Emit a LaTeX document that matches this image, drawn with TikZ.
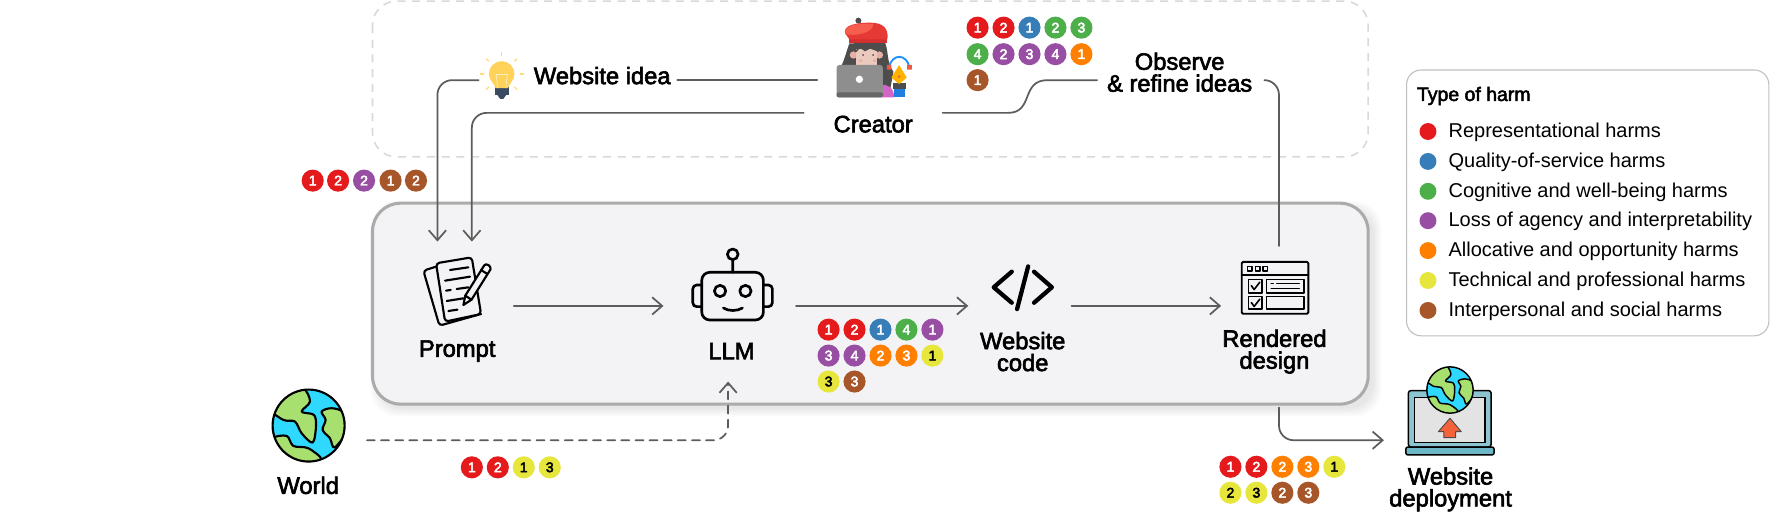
\documentclass[tikz,border=0pt]{standalone}
\usepackage{fontspec}
\usetikzlibrary{arrows.meta,calc}
\setmainfont{Liberation Sans}
\newfontfamily\labf[FakeBold=2.6]{Liberation Sans}
\newfontfamily\legf{Liberation Sans}
\newfontfamily\digf[FakeBold=3.5]{Liberation Sans}
\definecolor{hR}{HTML}{E41A1C}
\definecolor{hB}{HTML}{377EB8}
\definecolor{hG}{HTML}{4DAF4A}
\definecolor{hP}{HTML}{984EA3}
\definecolor{hO}{HTML}{FF7F00}
\definecolor{hY}{HTML}{E6E63C}
\definecolor{hN}{HTML}{A65628}
\definecolor{connc}{HTML}{5C5C5C}
\definecolor{panel}{HTML}{F3F3F5}
\definecolor{landc}{HTML}{A8E070}
\definecolor{seac}{HTML}{2ED8FF}
\definecolor{bulbc}{HTML}{FFD25A}
\definecolor{bulbb}{HTML}{3A4A60}
\definecolor{rayc}{HTML}{FFD97A}
\definecolor{hairc}{HTML}{4D4D4D}
\definecolor{skinc}{HTML}{EBC9BC}
\definecolor{earc}{HTML}{E5B0A5}
\definecolor{beretc}{HTML}{E53935}
\definecolor{beretl}{HTML}{F65D4E}
\definecolor{beretd}{HTML}{D32F2F}
\definecolor{lapc}{HTML}{8E8E8E}
\definecolor{lapd}{HTML}{666666}
\definecolor{pinkc}{HTML}{D465C8}
\definecolor{penb}{HTML}{1E7FE0}
\definecolor{nibc}{HTML}{FFB300}
\definecolor{arcc}{HTML}{1E90FF}
\definecolor{handc}{HTML}{F05A40}
\definecolor{lapframe}{HTML}{8CC4CF}
\definecolor{lapbase}{HTML}{6DB6C6}
\definecolor{screenc}{HTML}{E3E3E3}
\definecolor{uparrow}{HTML}{F4623A}
\def\uu{0.8466pt}
\tikzset{
  badge/.style={circle,inner sep=0pt,minimum size=19.6*\uu,font=\digf\fontsize{10.5pt}{10.5pt}\selectfont},
  bR/.style={badge,fill=hR,text=white},
  bB/.style={badge,fill=hB,text=white},
  bG/.style={badge,fill=hG,text=white},
  bP/.style={badge,fill=hP,text=white},
  bO/.style={badge,fill=hO,text=white},
  bY/.style={badge,fill=hY,text=black},
  bN/.style={badge,fill=hN,text=white},
  lab/.style={inner sep=0pt,align=center,font=\labf\fontsize{17.8pt}{16.4pt}\selectfont},
  legtext/.style={inner sep=0pt,anchor=west,text height=11pt,text depth=3pt,font=\legf\fontsize{15pt}{18pt}\selectfont},
  legdot/.style={circle,inner sep=0pt,minimum size=15*\uu},
  iconbox/.style={inner sep=0pt,draw=none,fill=none},
  conn/.style={draw=connc,line width=1.3pt,line cap=round},
  tip/.style={-{Straight Barb[length=7.5pt,width=13pt,line width=1.3pt]}},
  ink/.style={draw=black,line width=1.6pt,line join=round,line cap=round},
}
\newcommand{\bdg}[5]{\node[#4] (#1) at (#2,#3) {#5};}
\newcommand{\globeAt}[4]{%
  \begin{scope}[shift={(#1,#2)},scale=#3]
    \begin{scope}
      \clip (0,0) circle (108);
      \fill[seac] (0,0) circle (108);
      \draw[fill=landc,draw=black,line width=#4,line join=round] plot[smooth cycle,tension=0.55] coordinates {(-120,-50)(-76,-17)(-41,-12)(-21,23)(12,51)(22,3)(16,-32)(-21,-42)(4,-72)(-16,-112)(-70,-120)(-125,-80)};
      \draw[fill=landc,draw=black,line width=#4,line join=round] plot[smooth cycle,tension=0.55] coordinates {(39,-42)(69,-52)(105,-40)(125,0)(79,65)(64,38)(42,13)(51,-17)};
      \draw[fill=landc,draw=black,line width=#4,line join=round] plot[smooth cycle,tension=0.55] coordinates {(-110,38)(-66,31)(-46,61)(-1,68)(39,103)(-6,125)(-80,115)(-120,70)};
    \end{scope}
    \draw[black,line width=#4] (0,0) circle (108);
  \end{scope}}
\begin{document}
\begin{tikzpicture}[x=0.8466pt,y=-0.8466pt]
\useasboundingbox (0,0) rectangle (1568,453.54);
\fill[white] (0,0) rectangle (1568,453.54);

% creator region
\draw[draw=black!15,line width=1.2pt,dash pattern=on 6pt off 5pt,rounded corners=18pt] (330,1) rectangle (1212,139);

% main panel with soft shadow
\foreach \g in {1,2,3,4,5,6,7,8}{
  \fill[black,opacity=0.012,rounded corners=20pt] (336-\g,186-\g) rectangle (1216+\g,361+\g);
}
\draw[fill=panel,draw=black!33,line width=2.3pt,rounded corners=21pt] (330,180) rectangle (1212,358);

% bulb
\begin{scope}
  \foreach \a in {0,45,135,180,225,315}{
    \draw[rayc,line width=0.9pt] ($(444.4,65.6)+(\a:16)$) -- ($(444.4,65.6)+(\a:19.5)$);
  }
  \draw[rayc,line width=0.9pt] (444.4,49.5) -- (444.4,46.5);
  \fill[bulbb] (438.5,77) rectangle (450.5,84) ;
  \fill[bulbb] (440.5,84) -- (448.5,84) -- (446,87.5) -- (443,87.5) -- cycle;
  \fill[bulbc] (433,65.6) arc[start angle=180,end angle=360,radius=11.4] .. controls (455.8,71) and (451,74) .. (450,78) -- (439,78) .. controls (438,74) and (433,71) .. (433,65.6);
  \draw[rayc!45!white,line width=0.5pt] (441,78) -- (439.5,66) -- (449.5,66) -- (448,78);
\end{scope}

% creator icon
\begin{scope}[shift={(699.9,8.86)},scale=0.2953]
  \fill[hairc] (205,32) circle (9);
  \fill[hairc] (178,100) .. controls (170,120) and (165,145) .. (155,165) -- (150,190) -- (300,240) -- (310,185) .. controls (290,160) and (295,120) .. (285,98) -- cycle;
  \fill[beretd] (178,68) rectangle (290,98);
  \fill[beretc] (165,70) .. controls (158,45) and (200,38) .. (240,38) .. controls (280,38) and (296,55) .. (292,88) -- (178,88) -- cycle;
  \fill[beretl] (165,72) .. controls (158,48) and (200,38) .. (248,42) .. controls (255,58) and (215,82) .. (165,72) -- cycle;
  \fill[earc] (190,135) circle (11) (268,135) circle (11);
  \fill[skinc] (197,118) rectangle (262,165);
  \fill[hairc] (197,122) -- (210,104) -- (225,114) -- (240,98) -- (250,112) -- (262,118) -- (262,124) -- (240,116) -- (225,124) -- (210,114) -- (197,128) -- cycle;
  \fill[hairc] (219,135) circle (3.2) (249,135) circle (3.2);
  \fill[earc] (212,152) circle (5.5) (254,152) circle (5.5);
  \fill[pinkc] (272,262) -- (272,225) .. controls (295,222) and (312,235) .. (312,262) -- cycle;
  \fill[lapc,rounded corners=2pt] (140,165) rectangle (278,262);
  \fill[lapd,rounded corners=1pt] (140,247) rectangle (278,262);
  \fill[white] (208,208) circle (11);
  \fill[hairc] (310,220) rectangle (347,238);
  \fill[penb] (311,238) rectangle (346,262);
  \fill[nibc] (327,165) -- (350,203) -- (327,222) -- (304,203) -- cycle;
  \fill[handc] (327,200) circle (4);
  \draw[arcc,line width=1.4pt] (297,172) .. controls (305,130) and (350,130) .. (358,172);
  \fill[handc] (290,165) rectangle (304,179) (351,165) rectangle (365,179);
\end{scope}

% prompt icon
\begin{scope}[shift={(354.4,212.6)},scale=0.2953]
  \draw[ink,fill=panel,rounded corners=2.5pt] (108,80) -- (70,92) -- (118,257) -- (243,222);
  \draw[ink,fill=panel,rounded corners=2.5pt] (108,70) -- (215,52) -- (243,222) -- (135,245) -- cycle;
  \draw[ink] (150,90) -- (205,82) (135,122) -- (210,110) (138,152) -- (152,150) (170,147) -- (205,142) (140,183) -- (190,175) (145,213) -- (172,209);
  \draw[ink,fill=panel] (252.6,76) .. controls (258,68) and (274,78) .. (271.4,88) -- (214.4,179) -- (190,195) -- (195.6,167) -- cycle;
  \draw[ink] (243,90) -- (262,102) (196,167) -- (214,179);
\end{scope}

% robot icon
\begin{scope}[shift={(354.4,212.6)},scale=0.2953]
  \draw[ink,line width=2pt] (998,43) circle (16) (998,59) -- (998,97);
  \draw[ink,line width=2pt,rounded corners=6pt] (905,97) rectangle (1090,240);
  \draw[ink,line width=2pt,rounded corners=3pt] (905,135) -- (878,135) -- (878,200) -- (905,200);
  \draw[ink,line width=2pt,rounded corners=3pt] (1090,135) -- (1117,135) -- (1117,200) -- (1090,200);
  \draw[ink,line width=2pt] (960,153) circle (17) (1036,153) circle (17);
  \draw[ink,line width=2pt] (970,204) .. controls (985,214) and (1012,214) .. (1027,204);
\end{scope}

% code icon
\draw[black,line width=3.2pt,line cap=round,line join=round] (896.3,240.7) -- (880.3,254.5) -- (896.3,268.2) (916,240.7) -- (931.8,254.5) -- (916,268.2) (910.8,236) -- (901,273.8);

% rendered design icon
\begin{scope}
  \draw[ink,line width=1.4pt,rounded corners=1pt] (1100,232) rectangle (1159,278);
  \draw[ink,line width=1.2pt] (1100,243.5) -- (1159,243.5);
  \draw[ink,line width=1.1pt] (1105,236) rectangle (1109,240) (1112,236) rectangle (1116,240) (1119,236) rectangle (1123,240);
  \draw[ink,line width=1.2pt] (1106,247.5) rectangle (1118,259.5) (1106,262.5) rectangle (1118,274) (1122,247.5) rectangle (1155,259.5) (1122,262.5) rectangle (1155,274);
  \draw[ink,line width=1.2pt] (1108.5,253) -- (1111,256.5) -- (1116,250) (1108.5,268) -- (1111,271.5) -- (1116,265);
  \draw[ink,line width=0.9pt] (1126,251) -- (1128,251) (1131,251) -- (1151,251) (1126,255.5) -- (1151,255.5);
\end{scope}

% world and deployment icons
\globeAt{273.4}{377}{0.2953}{1.6pt}
\draw[black,line width=1.1pt,fill=lapframe,rounded corners=2pt] (1247.6,346) rectangle (1321,396);
\draw[black,line width=1.1pt,fill=screenc] (1253,352) rectangle (1315.6,392);
\draw[black,line width=1.1pt,fill=lapbase,rounded corners=1.5pt] (1245.4,396) rectangle (1323.5,403);
\globeAt{1284.5}{345.5}{0.19}{1.1pt}
\draw[black!70,line width=0.7pt,fill=uparrow,line join=round] (1284.5,370.5) -- (1294.5,382.4) -- (1289.5,382.4) -- (1289.5,387.7) -- (1279,387.7) -- (1279,382.4) -- (1274.2,382.4) -- cycle;

% icon anchors (invisible boxes that the connectors start from)
\node[iconbox,minimum width=100*\uu,minimum height=10*\uu] (promptBox) at (405,271) {};
\node[iconbox,minimum width=117*\uu,minimum height=10*\uu] (llmBox) at (646.5,271) {};
\node[iconbox,minimum width=91*\uu,minimum height=10*\uu] (codeBox) at (903.5,271) {};
\node[iconbox,minimum width=94*\uu,minimum height=10*\uu] (renderBox) at (1129,271) {};
\coordinate (deployIn) at (1226,390);
\coordinate (promptInA) at (387.5,214);
\coordinate (promptInB) at (418,214);
\coordinate (llmIn) at (645,338);
\coordinate (worldOut) at (325,390);
\coordinate (bulbOut) at (424,71);
\coordinate (ideaOut) at (600,71);
\coordinate (creatorIdea) at (724,71);
\coordinate (creatorPrompt) at (712,100);
\coordinate (creatorObserve) at (835,100);
\coordinate (observeIn) at (972,71);
\coordinate (observeOut) at (1120,71);
\coordinate (renderTop) at (1133,218);
\coordinate (renderBottom) at (1133,361);

% labels
\node[lab] (ideaLabel) at (533.5,67) {Website idea};
\node[lab] (creatorLabel) at (773.5,110) {Creator};
\node[lab] (observeLabel) at (1045,64) {Observe\\\& refine ideas};
\node[lab] (promptLabel) at (405,311) {Prompt};
\node[lab] (llmLabel) at (648,311) {LLM};
\node[lab] (codeLabel) at (906,311.5) {Website\\code};
\node[lab] (renderLabel) at (1129,311.5) {Rendered\\design};
\node[lab] (worldLabel) at (273,430) {World};
\node[lab] (deployLabel) at (1285,433.5) {Website\\deployment};

% connectors
\draw[conn] (ideaOut) -- (creatorIdea);
\draw[conn,tip,rounded corners=11pt] (bulbOut) -| (promptInA);
\draw[conn,tip,rounded corners=11pt] (creatorPrompt) -| (promptInB);
\draw[conn] (creatorObserve) -- (893,100) .. controls (916,100) and (904,71) .. (928,71) -- (observeIn);
\draw[conn,rounded corners=11pt] (observeOut) -| (renderTop);
\draw[conn,tip] (promptBox.east) -- (llmBox.west);
\draw[conn,tip] (llmBox.east) -- (codeBox.west);
\draw[conn,tip] (codeBox.east) -- (renderBox.west);
\draw[conn,tip,rounded corners=11pt] (renderBottom) |- (deployIn);
\draw[conn,tip,dash pattern=on 6pt off 4.6pt,rounded corners=11pt] (worldOut) -| (llmIn);

% harm badges
\bdg{a1}{866}{24.5}{bR}{1}\bdg{a2}{889}{24.5}{bR}{2}\bdg{a3}{912}{24.5}{bB}{1}\bdg{a4}{935}{24.5}{bG}{2}\bdg{a5}{958}{24.5}{bG}{3}
\bdg{a6}{866}{48}{bG}{4}\bdg{a7}{889}{48}{bP}{2}\bdg{a8}{912}{48}{bP}{3}\bdg{a9}{935}{48}{bP}{4}\bdg{a10}{958}{48}{bO}{1}
\bdg{a11}{866}{71}{bN}{1}
\bdg{b1}{277}{160}{bR}{1}\bdg{b2}{299.5}{160}{bR}{2}\bdg{b3}{322.5}{160}{bP}{2}\bdg{b4}{346}{160}{bN}{1}\bdg{b5}{368.5}{160}{bN}{2}
\bdg{c1}{734}{292}{bR}{1}\bdg{c2}{757}{292}{bR}{2}\bdg{c3}{780}{292}{bB}{1}\bdg{c4}{803}{292}{bG}{4}\bdg{c5}{826}{292}{bP}{1}
\bdg{c6}{734}{315}{bP}{3}\bdg{c7}{757}{315}{bP}{4}\bdg{c8}{780}{315}{bO}{2}\bdg{c9}{803}{315}{bO}{3}\bdg{c10}{826}{315}{bY}{1}
\bdg{c11}{734}{338}{bY}{3}\bdg{c12}{757}{338}{bN}{3}
\bdg{d1}{418}{414}{bR}{1}\bdg{d2}{441}{414}{bR}{2}\bdg{d3}{464}{414}{bY}{1}\bdg{d4}{487}{414}{bY}{3}
\bdg{e1}{1090}{413.5}{bR}{1}\bdg{e2}{1113}{413.5}{bR}{2}\bdg{e3}{1136}{413.5}{bO}{2}\bdg{e4}{1159}{413.5}{bO}{3}\bdg{e5}{1182}{413.5}{bY}{1}
\bdg{e6}{1090}{436.5}{bY}{2}\bdg{e7}{1113}{436.5}{bY}{3}\bdg{e8}{1136}{436.5}{bN}{2}\bdg{e9}{1159}{436.5}{bN}{3}

% legend
\draw[fill=white,draw=black!25,line width=0.8pt,rounded corners=11pt] (1246,62) rectangle (1567,297.5);
\node[inner sep=0pt,anchor=west,font=\labf\fontsize{14.6pt}{14pt}\selectfont] (legTitle) at (1255,85) {Type of harm};
\node[legdot,fill=hR] (l1) at (1265,116.5) {}; \node[legtext] (t1) at (1283,117) {Representational harms};
\node[legdot,fill=hB] (l2) at (1265,143) {}; \node[legtext] (t2) at (1283,143.5) {Quality-of-service harms};
\node[legdot,fill=hG] (l3) at (1265,169.5) {}; \node[legtext] (t3) at (1283,170) {Cognitive and well-being harms};
\node[legdot,fill=hP] (l4) at (1265,195.5) {}; \node[legtext] (t4) at (1283,196) {Loss of agency and interpretability};
\node[legdot,fill=hO] (l5) at (1265,222) {}; \node[legtext] (t5) at (1283,222.5) {Allocative and opportunity harms};
\node[legdot,fill=hY] (l6) at (1265,248.5) {}; \node[legtext] (t6) at (1283,249) {Technical and professional harms};
\node[legdot,fill=hN] (l7) at (1265,275) {}; \node[legtext] (t7) at (1283,275.5) {Interpersonal and social harms};
\end{tikzpicture}
\end{document}
